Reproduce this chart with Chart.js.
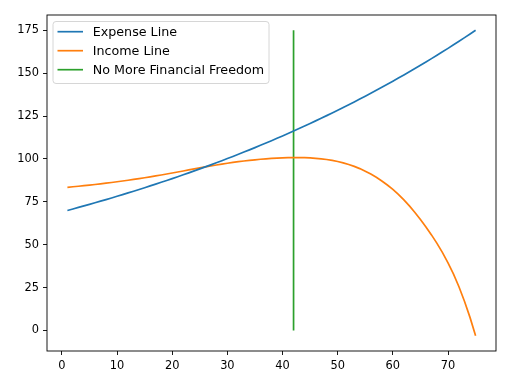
<!DOCTYPE html>
<html>
<head>
<meta charset="utf-8">
<script src="https://cdn.jsdelivr.net/npm/chart.js@4"></script>
<style>
  body { margin: 0; background: #fff; }
  #wrap { width: 524px; height: 382px; }
</style>
</head>
<body>
<div id="wrap"><canvas id="chart" width="524" height="382"></canvas></div>
<script>
// years on the x axis
var years = [];
for (var y = 1; y <= 75; y++) years.push(y);

var expenseLine = [
    70.00, 70.87, 71.76, 72.65, 73.55, 74.47, 75.40, 76.34, 77.29, 78.25,
    79.23, 80.22, 81.22, 82.23, 83.25, 84.29, 85.34, 86.40, 87.48, 88.57,
    89.67, 90.79, 91.92, 93.06, 94.22, 95.40, 96.59, 97.79, 99.01, 100.24,
    101.49, 102.75, 104.03, 105.33, 106.64, 107.97, 109.32, 110.68, 112.06, 113.45,
    114.87, 116.30, 117.75, 119.22, 120.70, 122.21, 123.73, 125.27, 126.83, 128.41,
    130.01, 131.63, 133.27, 134.93, 136.61, 138.32, 140.04, 141.79, 143.55, 145.34,
    147.15, 148.98, 150.84, 152.72, 154.62, 156.55, 158.50, 160.47, 162.47, 164.49,
    166.55, 168.62, 170.72, 172.85, 175.00
];

var incomeLine = [
    83.50, 83.80, 84.11, 84.44, 84.78, 85.14, 85.51, 85.90, 86.30, 86.72,
    87.15, 87.60, 88.07, 88.56, 89.06, 89.58, 90.12, 90.67, 91.24, 91.82,
    92.41, 93.01, 93.61, 94.21, 94.80, 95.38, 95.94, 96.48, 97.00, 97.50,
    97.97, 98.41, 98.82, 99.19, 99.53, 99.83, 100.10, 100.33, 100.52, 100.67,
    100.77, 100.82, 100.82, 100.77, 100.62, 100.40, 100.10, 99.70, 99.20, 98.55,
    97.75, 96.80, 95.70, 94.40, 92.90, 91.20, 89.30, 87.20, 84.85, 82.25,
    79.35, 76.15, 72.65, 68.85, 64.75, 60.40, 55.75, 50.80, 45.45, 39.50,
    32.83, 25.36, 16.95, 7.52, -3.06
];

// vertical marker
var freedomYear = 42;
var freedomRange = [0, 175];

var xTicks = [0, 10, 20, 30, 40, 50, 60, 70];
var yTicks = [0, 25, 50, 75, 100, 125, 150, 175];

function toPoints(xs, ys) {
    return xs.map(function(x, i) { return { x: x, y: ys[i] }; });
}

var tickFont = { family: "DejaVu Sans", size: 11.4 };
var legendFont = { family: "DejaVu Sans", size: 12.7 };

// matplotlib style box + legend
var mplFrame = {
    id: 'mplFrame',
    afterDraw: function(chart) {
        var ctx = chart.ctx;
        var a = chart.chartArea;
        ctx.save();
        ctx.strokeStyle = '#000';
        ctx.lineWidth = 0.9;
        ctx.strokeRect(a.left, a.top, a.right - a.left, a.bottom - a.top);

        // legend
        var bx = 53, by = 21.5, bw = 216, bh = 62;
        ctx.beginPath();
        ctx.roundRect(bx, by, bw, bh, 3);
        ctx.fillStyle = 'rgba(255,255,255,0.8)';
        ctx.fill();
        ctx.strokeStyle = '#cccccc';
        ctx.lineWidth = 0.8;
        ctx.stroke();

        ctx.font = legendFont.size + 'px "' + legendFont.family + '"';
        ctx.textBaseline = 'middle';
        ctx.textAlign = 'left';
        chart.data.datasets.forEach(function(ds, i) {
            var rowY = 31.7 + i * 19;
            ctx.beginPath();
            ctx.moveTo(57.5, rowY);
            ctx.lineTo(83, rowY);
            ctx.strokeStyle = ds.borderColor;
            ctx.lineWidth = 1.7;
            ctx.stroke();
            ctx.fillStyle = '#000';
            ctx.fillText(ds.label, 92.7, rowY + 0.5);
        });
        ctx.restore();
    }
};

var ctx = document.getElementById("chart").getContext("2d");

var myChart = new Chart(ctx, {
    type: 'line',
    data: {
        datasets: [
            {
                label: "Expense Line",
                data: toPoints(years, expenseLine),
                borderColor: "#1f77b4",
                borderWidth: 1.7,
                pointRadius: 0,
                tension: 0
            },
            {
                label: "Income Line",
                data: toPoints(years, incomeLine),
                borderColor: "#ff7f0e",
                borderWidth: 1.7,
                pointRadius: 0,
                tension: 0
            },
            {
                label: "No More Financial Freedom",
                data: [{ x: freedomYear, y: freedomRange[0] }, { x: freedomYear, y: freedomRange[1] }],
                borderColor: "#2ca02c",
                borderWidth: 1.7,
                pointRadius: 0,
                tension: 0
            }
        ]
    },
    options: {
        responsive: false,
        animation: false,
        layout: { padding: { left: 0, right: 28, top: 15, bottom: 0 } },
        plugins: {
            legend: { display: false },
            tooltip: { enabled: false }
        },
        scales: {
            x: {
                type: 'linear',
                min: -2.7,
                max: 78.7,
                afterBuildTicks: function(scale) {
                    scale.ticks = xTicks.map(function(v) { return { value: v }; });
                },
                afterFit: function(scale) { scale.height = 31; },
                grid: { display: true, drawOnChartArea: false, drawTicks: true, tickLength: 4, color: '#000', lineWidth: 0.9 },
                border: { display: false },
                ticks: { padding: 4, color: '#000', font: tickFont, maxRotation: 0 }
            },
            y: {
                type: 'linear',
                min: -11.93,
                max: 183.93,
                afterBuildTicks: function(scale) {
                    scale.ticks = yTicks.map(function(v) { return { value: v }; });
                },
                afterFit: function(scale) { scale.width = 47; },
                grid: { display: true, drawOnChartArea: false, drawTicks: true, tickLength: 4, color: '#000', lineWidth: 0.9 },
                border: { display: false },
                ticks: { padding: 4, color: '#000', font: tickFont }
            }
        }
    },
    plugins: [mplFrame]
});
</script>
</body>
</html>
